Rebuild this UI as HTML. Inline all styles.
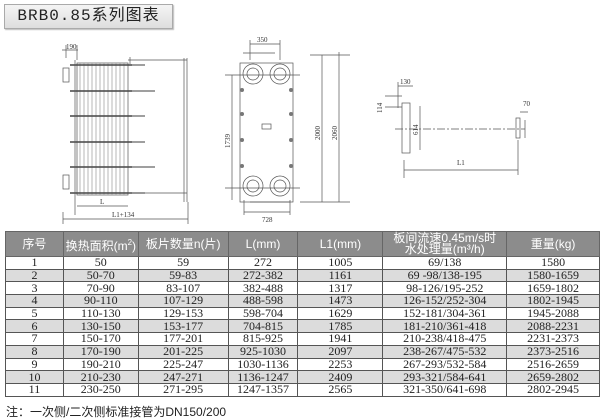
<!DOCTYPE html>
<html><head><meta charset="utf-8"><style>
body{margin:0;width:600px;height:418px;background:#fff;position:relative;overflow:hidden;font-family:"Liberation Serif","Noto Serif CJK SC",serif}
.title{position:absolute;left:4px;top:4px;width:167px;height:23px;border:1px solid #aaa;background:linear-gradient(#f4f4f4,#dedede);font:16px "Liberation Mono","Noto Sans CJK SC",monospace;line-height:23px;text-align:center;letter-spacing:1px;color:#222;box-shadow:1px 1px 1px #bbb}
table{position:absolute;left:5px;top:231px;width:595px;border-collapse:collapse;font-size:12px;color:#222}
td{border:1px solid #555;text-align:center;height:11.7px;line-height:11px;padding:0}
th{background:#8c8c8c;color:#fff;font:12px "Liberation Sans","Noto Sans CJK SC",sans-serif;height:24px;border:1px solid #666;padding:0;line-height:11px;font-weight:normal}
tr.g td{background:#dcdcdc}
.note{position:absolute;left:6px;top:403px;font:12px "Liberation Sans","Noto Sans CJK SC",sans-serif;color:#222}
svg{position:absolute;left:0;top:0}
</style></head><body>
<div class="title">BRB0.85系列图表</div>
<svg width="600" height="230" stroke="#555" fill="none" stroke-width="0.7" font-family="Liberation Serif" font-size="7">
<rect x="77" y="63" width="51" height="132"/>
<g stroke="#999"><path d="M80 63V195M84 63V195M88 63V195M92 63V195M96 63V195M100 63V195M104 63V195M108 63V195M112 63V195M116 63V195M120 63V195M124 63V195"/></g>
<g stroke="#444" stroke-width="1.5"><path d="M70 65H132M70 91H132M70 116H132M70 142H132M70 167H132M70 193H132"/></g>
<g stroke="#666" stroke-width="1.3"><path d="M132 65H145M132 91H155M132 116H145M132 142H145M132 167H155M132 193H145"/></g>
<path d="M128 60H187M128 193H187M184 58V202M187 58V202M75 60V215M130 57V64"/>
<rect x="63" y="68" width="6" height="14"/><rect x="63" y="175" width="6" height="14"/>
<path d="M62 50H78M66 45V58M77 45V60M77 206H128M63 219H188M63 212V224M188 202V224"/>
<text x="66" y="49" stroke="none" fill="#333">190</text>
<text x="100" y="204" stroke="none" fill="#333">L</text>
<text x="112" y="217" stroke="none" fill="#333">L1+134</text>
<rect x="240" y="63" width="53" height="139"/>
<circle cx="253" cy="74" r="10"/><circle cx="253" cy="74" r="6"/>
<circle cx="280" cy="74" r="10"/><circle cx="280" cy="74" r="6"/>
<circle cx="253" cy="186" r="10"/><circle cx="253" cy="186" r="6"/>
<circle cx="280" cy="186" r="10"/><circle cx="280" cy="186" r="6"/>
<g fill="#777" stroke="none"><circle cx="242" cy="90" r="2"/><circle cx="291" cy="90" r="2"/><circle cx="242" cy="114" r="2"/><circle cx="291" cy="114" r="2"/><circle cx="242" cy="140" r="2"/><circle cx="291" cy="140" r="2"/><circle cx="242" cy="166" r="2"/><circle cx="291" cy="166" r="2"/></g>
<rect x="262" y="124" width="9" height="5"/>
<path d="M250 44H280M250 40V60M280 40V60M243 53H275M225 75H300M225 188H300M232 75V200M250 202H290M244 200V215M290 200V215M244 212H290M310 55H350M300 202H350M322 55V202M339 52V202"/>
<text x="257" y="42" stroke="none" fill="#333">350</text>
<text x="262" y="222" stroke="none" fill="#333">728</text>
<text transform="translate(230,148) rotate(-90)" stroke="none" fill="#333">1739</text>
<text transform="translate(320,140) rotate(-90)" stroke="none" fill="#333">2000</text>
<text transform="translate(337,140) rotate(-90)" stroke="none" fill="#333">2060</text>
<rect x="402" y="103" width="8" height="50"/>
<path d="M395 129H525" stroke-dasharray="8 2 2 2"/>
<rect x="516" y="118" width="4" height="20"/>
<path d="M398 86H413M398 82V108M385 107H402M385 96H402M420 106V150M520 112H528M525 120V138M404 170H518M404 160V178M518 140V175"/>
<text x="400" y="84" stroke="none" fill="#333">130</text>
<text x="523" y="106" stroke="none" fill="#333">70</text>
<text x="457" y="165" stroke="none" fill="#333">L1</text>
<text transform="translate(418,135) rotate(-90)" stroke="none" fill="#333">614</text>
<text transform="translate(382,113) rotate(-90)" stroke="none" fill="#333">114</text>
</svg>
<table>
<colgroup><col style="width:58px"><col style="width:75px"><col style="width:90px"><col style="width:70px"><col style="width:85px"><col style="width:124px"><col style="width:93px"></colgroup>
<tr><th>序号</th><th>换热面积(m<sup style="font-size:8px">2</sup>)</th><th>板片数量n(片)</th><th>L(mm)</th><th>L1(mm)</th><th>板间流速0.45m/s时<br>水处理量(m³/h)</th><th>重量(kg)</th></tr>
<tr><td>1</td><td>50</td><td>59</td><td>272</td><td>1005</td><td>69/138</td><td>1580</td></tr>
<tr class="g"><td>2</td><td>50-70</td><td>59-83</td><td>272-382</td><td>1161</td><td>69 -98/138-195</td><td>1580-1659</td></tr>
<tr><td>3</td><td>70-90</td><td>83-107</td><td>382-488</td><td>1317</td><td>98-126/195-252</td><td>1659-1802</td></tr>
<tr class="g"><td>4</td><td>90-110</td><td>107-129</td><td>488-598</td><td>1473</td><td>126-152/252-304</td><td>1802-1945</td></tr>
<tr><td>5</td><td>110-130</td><td>129-153</td><td>598-704</td><td>1629</td><td>152-181/304-361</td><td>1945-2088</td></tr>
<tr class="g"><td>6</td><td>130-150</td><td>153-177</td><td>704-815</td><td>1785</td><td>181-210/361-418</td><td>2088-2231</td></tr>
<tr><td>7</td><td>150-170</td><td>177-201</td><td>815-925</td><td>1941</td><td>210-238/418-475</td><td>2231-2373</td></tr>
<tr class="g"><td>8</td><td>170-190</td><td>201-225</td><td>925-1030</td><td>2097</td><td>238-267/475-532</td><td>2373-2516</td></tr>
<tr><td>9</td><td>190-210</td><td>225-247</td><td>1030-1136</td><td>2253</td><td>267-293/532-584</td><td>2516-2659</td></tr>
<tr class="g"><td>10</td><td>210-230</td><td>247-271</td><td>1136-1247</td><td>2409</td><td>293-321/584-641</td><td>2659-2802</td></tr>
<tr><td>11</td><td>230-250</td><td>271-295</td><td>1247-1357</td><td>2565</td><td>321-350/641-698</td><td>2802-2945</td></tr>
</table>
<div class="note">注：一次侧/二次侧标准接管为DN150/200</div>
</body></html>
